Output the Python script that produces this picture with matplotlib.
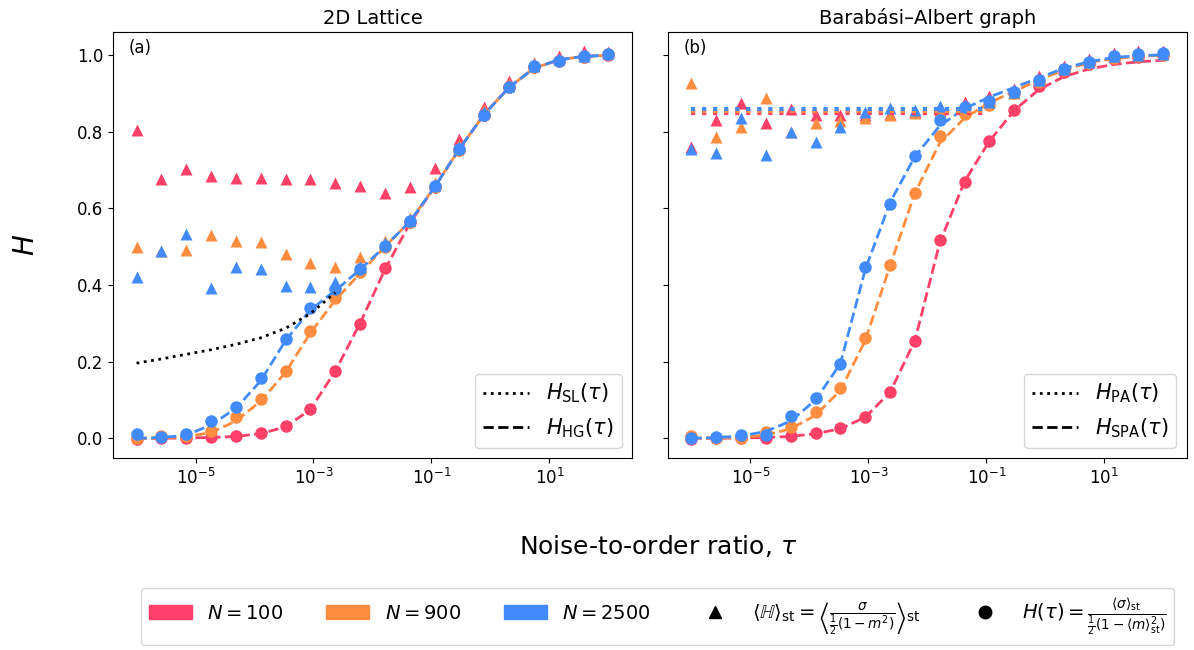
import numpy as np
import matplotlib
matplotlib.use("Agg")
import matplotlib.pyplot as plt
from matplotlib.lines import Line2D
from matplotlib.patches import Patch

# tau grid of the simulations
tau = np.logspace(-6, 2, 20)
sizes = ["100", "900", "2500"]
colors = ["#ff4069", "#ff8d3f", "#418bff"]

# ---- 2D lattice ----
lat_tri = [
    [0.805, 0.677, 0.702, 0.685, 0.680, 0.680, 0.677, 0.677, 0.666, 0.657,
     0.640, 0.655, 0.705, 0.780, 0.864, 0.932, 0.978, 0.997, 1.011, 1.008],
    [0.499, 0.488, 0.492, 0.531, 0.515, 0.513, 0.481, 0.457, 0.447, 0.474,
     0.515, 0.575, 0.665, 0.765, 0.855, 0.925, 0.975, 0.990, 1.000, 1.005],
    [0.420, 0.489, 0.533, 0.392, 0.446, 0.441, 0.398, 0.394, 0.407, 0.446,
     0.510, 0.570, 0.660, 0.760, 0.850, 0.920, 0.972, 0.988, 0.998, 1.004],
]
lat_circ = [
    [-0.003, 0.000, 0.000, 0.003, 0.007, 0.014, 0.031, 0.077, 0.175, 0.298,
     0.444, 0.563, 0.655, 0.752, 0.842, 0.915, 0.968, 0.985, 0.995, 1.000],
    [0.002, 0.006, 0.005, 0.018, 0.055, 0.103, 0.175, 0.281, 0.366, 0.433,
     0.500, 0.565, 0.655, 0.753, 0.843, 0.915, 0.968, 0.985, 0.995, 1.002],
    [0.011, 0.003, 0.011, 0.044, 0.081, 0.157, 0.259, 0.341, 0.389, 0.441,
     0.502, 0.568, 0.657, 0.754, 0.844, 0.916, 0.970, 0.985, 0.996, 1.003],
]
lat_hg = [
    [0.000, 0.000, 0.001, 0.002, 0.005, 0.012, 0.030, 0.075, 0.175, 0.300,
     0.440, 0.560, 0.655, 0.755, 0.845, 0.915, 0.965, 0.987, 0.996, 0.999],
    [0.000, 0.001, 0.004, 0.015, 0.045, 0.097, 0.172, 0.275, 0.360, 0.430,
     0.500, 0.565, 0.655, 0.755, 0.845, 0.915, 0.965, 0.987, 0.996, 0.999],
    [0.000, 0.002, 0.008, 0.035, 0.078, 0.150, 0.255, 0.335, 0.385, 0.440,
     0.500, 0.565, 0.655, 0.755, 0.845, 0.915, 0.965, 0.987, 0.996, 0.999],
]
sl_tau = tau[:9]
sl_vals = [0.196, 0.207, 0.219, 0.231, 0.245, 0.262, 0.287, 0.325, 0.380]

# ---- Barabasi-Albert ----
ba_tri = [
    [0.760, 0.831, 0.874, 0.823, 0.860, 0.842, 0.842, 0.842, 0.847, 0.851,
     0.855, 0.878, 0.893, 0.910, 0.945, 0.970, 0.990, 1.005, 1.010, 1.010],
    [0.926, 0.786, 0.812, 0.887, 0.800, 0.821, 0.828, 0.836, 0.842, 0.848,
     0.850, 0.865, 0.880, 0.900, 0.935, 0.965, 0.985, 1.000, 1.003, 1.005],
    [0.755, 0.745, 0.836, 0.739, 0.799, 0.773, 0.812, 0.851, 0.862, 0.857,
     0.866, 0.868, 0.877, 0.904, 0.935, 0.963, 0.982, 0.997, 1.000, 1.003],
]
ba_circ = [
    [-0.002, 0.000, 0.000, 0.000, 0.005, 0.013, 0.026, 0.055, 0.121, 0.254,
     0.518, 0.668, 0.775, 0.857, 0.920, 0.955, 0.975, 0.990, 0.995, 1.000],
    [0.005, 0.000, 0.002, 0.016, 0.030, 0.068, 0.130, 0.262, 0.453, 0.641,
     0.789, 0.845, 0.870, 0.900, 0.930, 0.960, 0.980, 0.993, 0.998, 1.000],
    [0.000, 0.004, 0.008, 0.008, 0.058, 0.104, 0.195, 0.448, 0.611, 0.737,
     0.830, 0.865, 0.880, 0.904, 0.935, 0.963, 0.982, 0.997, 1.002, 1.005],
]
ba_spa = [
    [0.000, 0.000, 0.001, 0.002, 0.005, 0.012, 0.025, 0.055, 0.120, 0.255,
     0.510, 0.670, 0.775, 0.855, 0.910, 0.943, 0.963, 0.975, 0.982, 0.986],
    [0.000, 0.001, 0.003, 0.008, 0.025, 0.060, 0.125, 0.255, 0.450, 0.640,
     0.770, 0.835, 0.875, 0.905, 0.935, 0.960, 0.980, 0.990, 0.996, 0.999],
    [0.000, 0.002, 0.006, 0.018, 0.045, 0.100, 0.195, 0.440, 0.615, 0.735,
     0.815, 0.860, 0.890, 0.915, 0.940, 0.965, 0.982, 0.993, 0.998, 1.000],
]
pa_tau = [1e-6, 0.11]
pa_vals = [0.848, 0.853, 0.858]

fig, axes = plt.subplots(1, 2, figsize=(11.94, 6.5), sharey=True)
fig.subplots_adjust(left=0.0946, right=0.994, top=0.951, bottom=0.295, wspace=0.069)

panels = [
    (axes[0], lat_tri, lat_circ, lat_hg, "2D Lattice", "(a)"),
    (axes[1], ba_tri, ba_circ, ba_spa, "Barabási–Albert graph", "(b)"),
]
for ax, tri, circ, curve, title, tag in panels:
    for k in range(3):
        ax.plot(tau, tri[k], "^", color=colors[k], ms=9, mec="none")
        ax.plot(tau, circ[k], "o", color=colors[k], ms=9, mec="none")
        ax.plot(tau, curve[k], "--", color=colors[k], lw=2)
    ax.set_xscale("log")
    ax.set_title(title, fontsize=14)
    ax.text(0.03, 0.962, tag, transform=ax.transAxes, fontsize=12, va="center")
    ax.xaxis.set_major_locator(matplotlib.ticker.FixedLocator([1e-5, 1e-3, 1e-1, 1e1]))
    ax.xaxis.set_minor_locator(matplotlib.ticker.NullLocator())
    ax.tick_params(labelsize=12)

axes[0].plot(sl_tau, sl_vals, ":", color="black", lw=2)
for k in range(3):
    axes[1].plot(pa_tau, [pa_vals[k]] * 2, ":", color=colors[k], lw=3)

axes[0].set_ylim(-0.052, 1.06)
axes[0].set_yticks([0.0, 0.2, 0.4, 0.6, 0.8, 1.0])
axes[0].set_ylabel("$H$", fontsize=20)
axes[0].yaxis.set_label_coords(-0.14, 0.5)

for ax, names in [(axes[0], ["SL", "HG"]), (axes[1], ["PA", "SPA"])]:
    hs = [Line2D([], [], ls=":", color="black", lw=2),
          Line2D([], [], ls="--", color="black", lw=2)]
    labs = [r"$H_{\rm %s}(\tau)$" % n for n in names]
    ax.legend(hs, labs, loc="lower right", fontsize=15, handlelength=2.2)

fig.text(0.551, 0.16, r"Noise-to-order ratio, $\tau$", ha="center", va="center", fontsize=18)

handles = [Patch(color=c) for c in colors]
handles += [Line2D([], [], ls="none", marker="^", color="black", ms=9),
            Line2D([], [], ls="none", marker="o", color="black", ms=9)]
labels = ["$N = %s$" % s for s in sizes]
labels += [r"$\langle \mathbb{H} \rangle_{\rm st} = \left\langle \frac{\sigma}{\frac{1}{2}(1-m^2)} \right\rangle_{\rm st}$",
           r"$H(\tau) = \frac{\langle \sigma \rangle_{\rm st}}{\frac{1}{2}(1-\langle m \rangle_{\rm st}^2)}$"]
fig.legend(handles, labels, loc="center", bbox_to_anchor=(0.551, 0.051), ncol=5,
           fontsize=14, handlelength=2.2, columnspacing=2.2)

fig.savefig("out.png", dpi=100)
